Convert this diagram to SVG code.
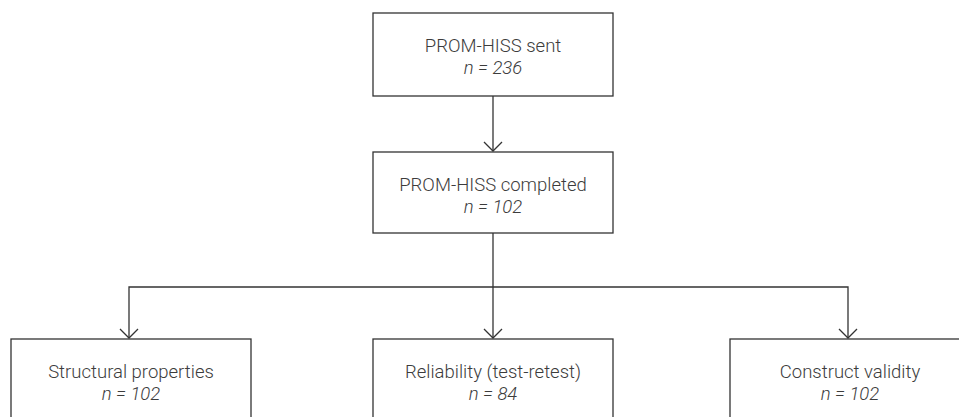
<svg xmlns="http://www.w3.org/2000/svg" width="959" height="417" viewBox="0 0 959 417">
<style>
.box{fill:#fff;stroke:#333;stroke-width:1.3}
.t{font-family:Roboto,"Liberation Sans",sans-serif;font-weight:300;font-size:18.5px;fill:#3c3c3c;text-anchor:middle}
.i{font-style:italic}
.c{fill:none;stroke:#333;stroke-width:1.3}
</style>
<defs>
<marker id="arr" markerUnits="userSpaceOnUse" markerWidth="20" markerHeight="20" viewBox="-10 -12 20 14" refX="0" refY="0" orient="auto-start-reverse" overflow="visible">
<path d="M-9,-9 L0,0 L9,-9" fill="none" stroke="#333" stroke-width="1.3" transform="rotate(-90)"/>
</marker>
</defs>
<rect width="959" height="417" fill="#fff"/>
<g id="connectors">
<path class="c" d="M493,96 V151" marker-end="url(#arr)"/>
<path class="c" d="M493,233 V338" marker-end="url(#arr)"/>
<path class="c" d="M129,338 V287 H848 V338" marker-start="url(#arr)" marker-end="url(#arr)"/>
</g>
<g id="sent">
<rect class="box" x="373" y="13" width="240" height="83"/>
<text class="t" x="493" y="52">PROM-HISS sent</text>
<text class="t i" x="493" y="73.5">n = 236</text>
</g>
<g id="completed">
<rect class="box" x="373" y="152" width="240" height="81"/>
<text class="t" x="493" y="191">PROM-HISS completed</text>
<text class="t i" x="493" y="212.5">n = 102</text>
</g>
<g id="structural">
<rect class="box" x="11" y="339" width="240" height="100"/>
<text class="t" x="131" y="378">Structural properties</text>
<text class="t i" x="131" y="399.5">n = 102</text>
</g>
<g id="reliability">
<rect class="box" x="373" y="339" width="240" height="100"/>
<text class="t" x="493" y="378">Reliability (test-retest)</text>
<text class="t i" x="493" y="399.5">n = 84</text>
</g>
<g id="construct">
<rect class="box" x="730" y="339" width="240" height="100"/>
<text class="t" x="850" y="378">Construct validity</text>
<text class="t i" x="850" y="399.5">n = 102</text>
</g>
</svg>
